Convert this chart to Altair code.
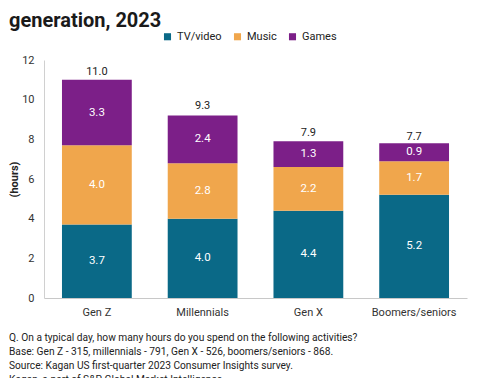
import altair as alt
import pandas as pd

generations = ["Gen Z", "Millennials", "Gen X", "Boomers/seniors"]
tv_video = [3.7, 4.0, 4.4, 5.2]
music = [4.0, 2.8, 2.2, 1.7]
games = [3.3, 2.4, 1.3, 0.9]
totals = [11.0, 9.3, 7.9, 7.7]
activities = ["TV/video", "Music", "Games"]
colors = ["#0a6987", "#f0a64c", "#7c1f88"]
y_ticks = [0, 2, 4, 6, 8, 10, 12]

title_text = "generation, 2023"
footnote = ("Q. On a typical day, how many hours do you spend on the following activities?\n"
            "Base: Gen Z - 315, millennials - 791, Gen X - 526, boomers/seniors - 868.\n"
            "Source: Kagan US first-quarter 2023 Consumer Insights survey.\n"
            "Kagan, a part of S&P Global Market Intelligence.")

rows = []
for i, g in enumerate(generations):
    for k, (a, vals) in enumerate(zip(activities, [tv_video, music, games])):
        rows.append({"gen": g, "activity": a, "value": vals[i], "order": k})
df = pd.DataFrame(rows)
tot_df = pd.DataFrame({"gen": generations, "total": totals})

FONT = "Roboto"

x_axis = alt.Axis(labelAngle=0, ticks=False, labelPadding=8, labelFontSize=11,
                  labelColor="#333", domainColor="#c8c8c8", labelFont=FONT)
x_scale = alt.Scale(paddingInner=0.34, paddingOuter=0.17)
y_axis = alt.Axis(values=y_ticks, tickCount=7, grid=False, ticks=False, labelOverlap=False,
                  labelPadding=10, labelFontSize=11, labelColor="#333",
                  domainColor="#d0d0d0", titleFontSize=11, titleFontWeight="bold",
                  titleColor="#222", titlePadding=2, labelFont=FONT, titleFont=FONT)
y_scale = alt.Scale(domain=[0, 12], nice=False)

base = alt.Chart(df)

bars = base.mark_bar().encode(
    x=alt.X("gen:N", sort=generations, title=None, scale=x_scale, axis=x_axis),
    y=alt.Y("value:Q", stack="zero", title="(hours)", scale=y_scale, axis=y_axis),
    color=alt.Color("activity:N", scale=alt.Scale(domain=activities, range=colors),
                    legend=alt.Legend(title=None, orient="none", legendX=118, legendY=-29,
                                      direction="horizontal", symbolType="square",
                                      symbolSize=50, labelFontSize=11, labelColor="#222",
                                      columnPadding=10, labelFont=FONT, symbolStrokeWidth=0)),
    order=alt.Order("order:Q"),
)

seg = base.transform_stack(
    stack="value", groupby=["gen"], as_=["v0", "v1"], sort=[alt.SortField("order")]
).transform_calculate(mid="(datum.v0 + datum.v1) / 2").mark_text(
    color="white", fontSize=11.5, font=FONT
).encode(
    x=alt.X("gen:N", sort=generations, title=None, scale=x_scale, axis=x_axis),
    y=alt.Y("mid:Q", title="(hours)", scale=y_scale, axis=y_axis),
    text=alt.Text("value:Q", format=".1f"),
)

tot = alt.Chart(tot_df).mark_text(dy=-8, fontSize=11, color="#222", font=FONT).encode(
    x=alt.X("gen:N", sort=generations, title=None, scale=x_scale, axis=x_axis),
    y=alt.Y("total:Q", title="(hours)", scale=y_scale, axis=y_axis),
    text=alt.Text("total:Q", format=".1f"),
)

title = alt.Chart(pd.DataFrame({"t": [title_text]})).mark_text(
    align="left", baseline="alphabetic", fontSize=20, fontWeight="bold", color="#1a1a1a", font=FONT
).encode(x=alt.value(-35), y=alt.value(-33), text="t:N")

foot = alt.Chart(pd.DataFrame({"t": [footnote]})).mark_text(
    align="left", baseline="top", fontSize=10.2, color="#222", lineBreak="\n", lineHeight=14, font=FONT
).encode(x=alt.value(-35), y=alt.value(273), text="t:N")

chart = alt.layer(bars, seg, tot, title, foot).properties(
    width=423, height=238,
    autosize=alt.AutoSizeParams(type="none"),
    padding={"left": 36, "top": 52, "right": 7, "bottom": 80},
).configure_view(stroke=None)

chart.save("out.html", embed_options={"renderer": "svg", "actions": False})
